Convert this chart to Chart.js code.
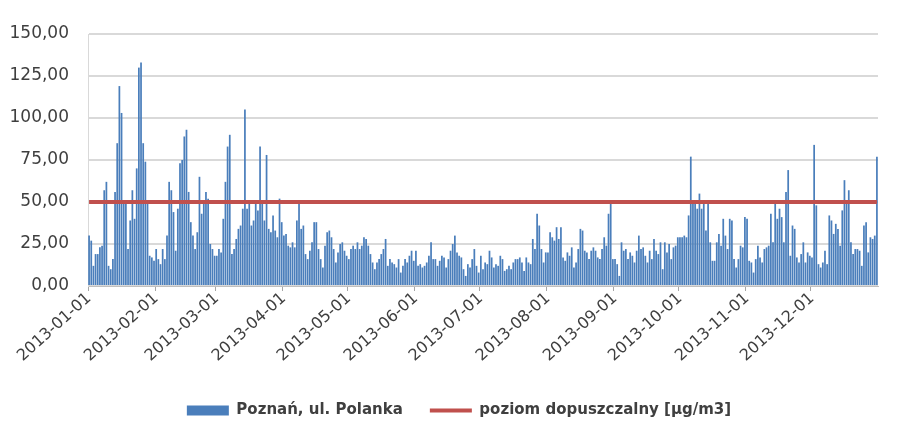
<!DOCTYPE html>
<html><head><meta charset="utf-8">
<script src="https://cdn.jsdelivr.net/npm/chart.js@4.4.0/dist/chart.umd.min.js"></script>
<style>html,body{margin:0;padding:0;background:#fff;} #wrap{width:903px;height:441px;}</style>
</head><body><div id="wrap"><canvas id="c" width="903" height="441"></canvas></div>
<script>
const seriesName = 'Poznań, ul. Polanka';
const limitName = 'poziom dopuszczalny [µg/m3]';
const limitValue = 50;
const monthPrefixes = ['2013-01','2013-02','2013-03','2013-04','2013-05','2013-06','2013-07','2013-08','2013-09','2013-10','2013-11','2013-12'];
const yTickValues = [0, 25, 50, 75, 100, 125, 150];

const jan = [30,27,12,19,19,23,24,57,62,12,10,16,56,85,119,103,50,50,22,39,57,40,70,130,133,85,74,50,18,17,15];
const feb = [22,16,13,22,16,30,62,57,44,21,46,73,75,89,93,56,38,30,22,32,65,43,50,56,52,25,22,18];
const mar = [18,22,20,40,62,83,90,19,22,28,34,36,46,105,46,50,36,39,50,45,83,50,39,78,34,32,42,33,29,52,38];
const apr = [30,31,24,23,26,23,39,49,34,36,19,16,21,26,38,38,22,16,11,24,32,33,29,22,14,20,25,26,21,18];
const may = [16,22,24,22,26,22,24,29,28,24,19,14,10,14,16,19,22,28,12,16,14,13,11,16,8,12,16,14,18,21,15];
const jun = [21,12,13,11,12,14,18,26,16,16,12,15,18,17,11,16,21,25,30,20,18,17,10,6,13,11,16,22,12,8];
const jul = [18,10,14,13,21,17,11,13,12,18,16,9,10,12,10,14,16,16,17,14,9,17,14,13,28,22,43,36,22,14,20];
const aug = [20,32,29,27,35,28,35,17,15,20,18,23,11,14,22,34,33,21,20,16,21,23,21,17,16,22,29,24,43,49,16];
const sep = [16,13,6,26,21,22,16,20,18,14,21,30,22,23,18,14,21,16,28,21,19,26,10,26,20,25,16,23,24,29];
const oct = [29,29,30,29,42,77,50,49,46,55,46,49,33,49,26,15,15,26,31,24,40,30,22,40,39,16,11,16,24,23,41];
const nov = [40,15,14,8,16,24,17,14,22,23,24,43,26,49,40,46,41,26,56,69,18,36,34,17,14,19,26,14,20,18];
const dec = [17,84,48,13,11,14,21,13,42,39,31,37,34,24,45,63,50,57,26,19,22,22,21,12,36,38,20,29,28,30,77];

const months = [jan,feb,mar,apr,may,jun,jul,aug,sep,oct,nov,dec];
const categories = [];
const values = [];
months.forEach((arr, m) => arr.forEach((v, d) => {
  categories.push(monthPrefixes[m] + '-' + String(d + 1).padStart(2, '0'));
  values.push(v);
}));
const limitSeries = categories.map(() => limitValue);

const BAR = '#4a7ebb', RED = '#c0504d', TXT = '#3f3f3f';
const isMonthStart = i => i >= categories.length || (categories[i] && categories[i].endsWith('-01'));

const legendShift = {
  id: 'legendShift',
  afterLayout(chart) { const l = chart.legend; if (l) { l.left += 20; l.right += 20; } }
};

new Chart(document.getElementById('c'), {
  data: {
    labels: categories,
    datasets: [
      { type: 'bar', label: seriesName, data: values, backgroundColor: BAR, barPercentage: 0.8, categoryPercentage: 1, order: 1 },
      { type: 'line', label: limitName, data: limitSeries, borderColor: RED, borderWidth: 4, pointRadius: 0, fill: false, order: 0 }
    ]
  },
  plugins: [legendShift],
  options: {
    responsive: false, animation: false,
    layout: { padding: { left: 0, right: 25, top: 34, bottom: 13 } },
    plugins: {
      tooltip: { enabled: false },
      legend: {
        position: 'bottom',
        labels: {
          usePointStyle: true, pointStyleWidth: 42, boxHeight: 10, padding: 27,
          color: TXT, font: { family: 'DejaVu Sans', size: 15, weight: 'bold' },
          generateLabels: () => [
            { text: seriesName, fillStyle: BAR, strokeStyle: BAR, lineWidth: 0, pointStyle: 'rect', datasetIndex: 0, hidden: false, fontColor: TXT },
            { text: limitName, fillStyle: RED, strokeStyle: RED, lineWidth: 4, pointStyle: 'line', datasetIndex: 1, hidden: false, fontColor: TXT }
          ]
        }
      }
    },
    scales: {
      x: {
        type: 'category', offset: true,
        grid: { offset: true, drawOnChartArea: false, drawTicks: true, tickLength: 5,
                color: c => isMonthStart(c.index) ? '#a6a6a6' : 'rgba(0,0,0,0)' },
        border: { display: true, color: '#bfbfbf' },
        ticks: { autoSkip: false, minRotation: 42, maxRotation: 42, padding: -2, color: TXT,
                 font: { family: 'DejaVu Sans', size: 16 },
                 callback: (v, i) => categories[i].endsWith('-01') ? categories[i] : '' },
        afterFit: s => { s.height = 90; }
      },
      y: {
        min: 0, max: 150,
        afterBuildTicks: s => { s.ticks = yTickValues.map(v => ({ value: v })); },
        ticks: { padding: 19, color: TXT, font: { family: 'DejaVu Sans', size: 17 },
                 callback: v => Number(v).toFixed(2).replace('.', ',') },
        grid: { color: '#d9d9d9', lineWidth: 2, drawTicks: false },
        border: { display: true, color: '#d9d9d9' },
        afterFit: s => { s.width = 88; }
      }
    }
  }
});
</script>
</body></html>
